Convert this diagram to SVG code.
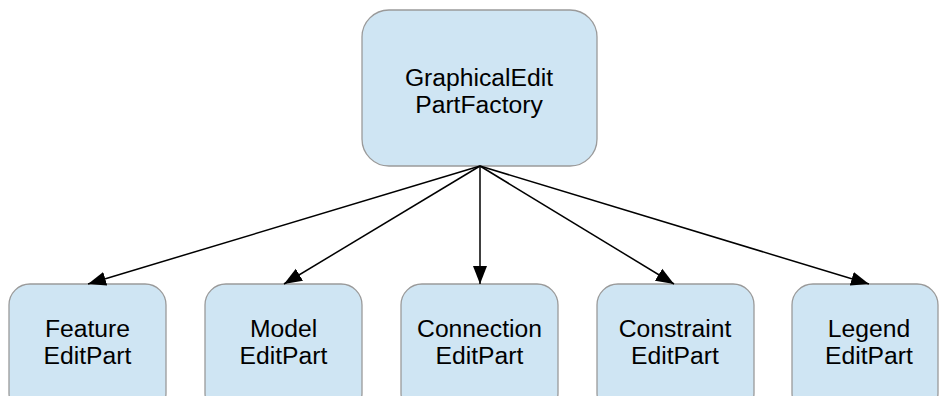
<svg xmlns="http://www.w3.org/2000/svg" width="939" height="396" viewBox="0 0 939 396">
  <style>
    .box { fill: #cfe5f3; stroke: #9a9a9a; stroke-width: 1.3; }
    .label { font-family: "Liberation Sans", Arial, sans-serif; font-size: 24.7px; fill: #000; text-anchor: middle; }
    .edge { stroke: #000; stroke-width: 1.5; fill: none; marker-end: url(#arrow); }
  </style>
  <defs>
    <marker id="arrow" markerUnits="userSpaceOnUse" markerWidth="20" markerHeight="16" refX="18" refY="8" orient="auto">
      <path d="M0,1 L18,8 L0,15 Z" fill="#000"/>
    </marker>
  </defs>
  <rect width="939" height="396" fill="#fff"/>

  <g id="factory">
    <rect class="box" x="362" y="10" width="235" height="156" rx="27"/>
    <text class="label" x="479" y="86">GraphicalEdit</text>
    <text class="label" x="479" y="113">PartFactory</text>
  </g>

  <g id="feature">
    <rect class="box" x="9" y="284" width="157" height="130" rx="21"/>
    <text class="label" x="87.5" y="337">Feature</text>
    <text class="label" x="87.5" y="364">EditPart</text>
  </g>

  <g id="model">
    <rect class="box" x="205" y="284" width="157" height="130" rx="21"/>
    <text class="label" x="283.5" y="337">Model</text>
    <text class="label" x="283.5" y="364">EditPart</text>
  </g>

  <g id="connection">
    <rect class="box" x="401" y="284" width="157" height="130" rx="21"/>
    <text class="label" x="479.5" y="337">Connection</text>
    <text class="label" x="479.5" y="364">EditPart</text>
  </g>

  <g id="constraint">
    <rect class="box" x="597" y="284" width="157" height="130" rx="21"/>
    <text class="label" x="675" y="337">Constraint</text>
    <text class="label" x="675" y="364">EditPart</text>
  </g>

  <g id="legend">
    <rect class="box" x="792" y="284" width="146" height="130" rx="21"/>
    <text class="label" x="869" y="337">Legend</text>
    <text class="label" x="869" y="364">EditPart</text>
  </g>

  <g id="connectors">
    <line class="edge" x1="480" y1="166" x2="88" y2="284"/>
    <line class="edge" x1="480" y1="166" x2="284" y2="284"/>
    <line class="edge" x1="480" y1="166" x2="480" y2="284"/>
    <line class="edge" x1="480" y1="166" x2="674" y2="284"/>
    <line class="edge" x1="480" y1="166" x2="869" y2="284"/>
  </g>
</svg>
